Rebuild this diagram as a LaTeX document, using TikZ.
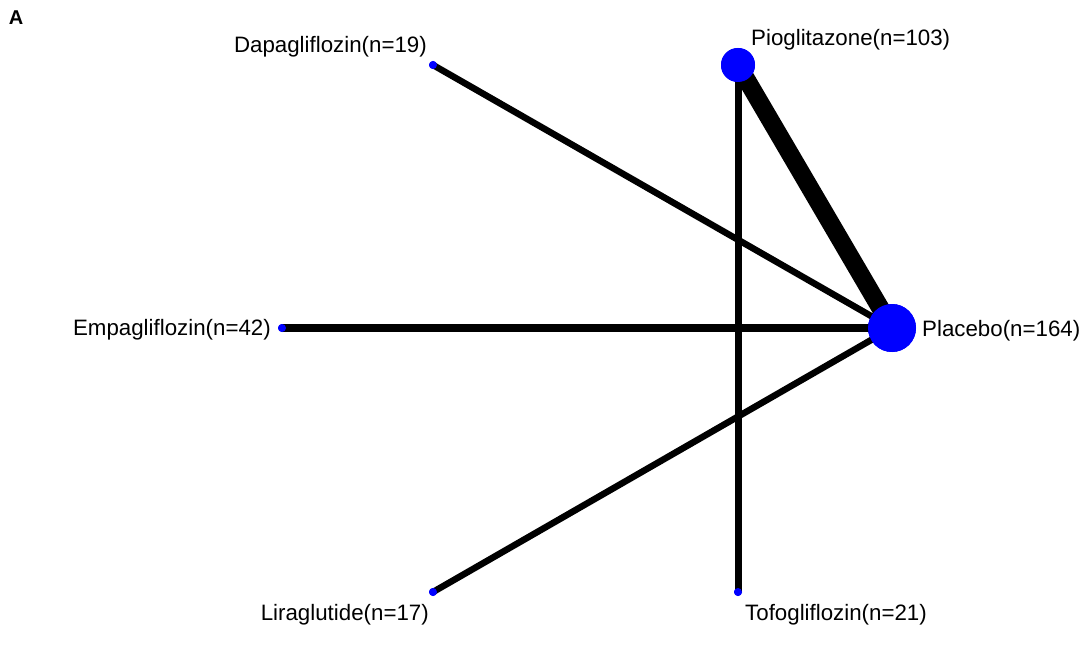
\documentclass[tikz,border=0pt]{standalone}
\usepackage{fontspec}
\setmainfont{Liberation Sans}
\usepackage{tikz}
\usetikzlibrary{positioning}
\definecolor{netblue}{RGB}{0,0,255}
\tikzset{
  trt/.style={circle, fill=netblue, inner sep=0pt, minimum size=#1},
  trt/.default=8pt,
  lab/.style={font=\fontsize{22.3}{25}\selectfont, inner sep=0pt},
  edge/.style={line width=#1, black}
}

\begin{document}
\begin{tikzpicture}[x=1pt, y=-1pt]
  \useasboundingbox (0,0) rectangle (1090,647);

  \node[font=\fontsize{20}{22}\selectfont\bfseries, inner sep=0pt] (panel) at (16,18) {A};

  % treatments
  \node[trt] (dapa) at (433,65) {};
  \node[trt=34pt] (pio) at (738,65) {};
  \node[trt] (empa) at (282,328) {};
  \node[trt=48pt] (plac) at (892,328) {};
  \node[trt] (lira) at (433,592) {};
  \node[trt] (tofo) at (738,592) {};

  % comparisons
  \draw[edge=6.5pt] (dapa.center) -- (plac.center);
  \draw[edge=8pt] (empa.center) -- (plac.center);
  \draw[edge=6.5pt] (lira.center) -- (plac.center);
  \draw[edge=18pt] (pio.center) -- (plac.center);
  \draw[edge=7pt] (pio.center) -- (tofo.center);

  % redraw dots on top
  \node[trt] at (dapa) {};
  \node[trt=34pt] at (pio) {};
  \node[trt] at (empa) {};
  \node[trt=48pt] at (plac) {};
  \node[trt] at (lira) {};
  \node[trt] at (tofo) {};

  % labels
  \node[lab, anchor=east] (dapalab) at (427,47) {Dapagliflozin(n=19)};
  \node[lab, anchor=west] (piolab) at (751,40) {Pioglitazone(n=103)};
  \node[lab, anchor=east] (empalab) at (271,330) {Empagliflozin(n=42)};
  \node[lab, anchor=west] (placlab) at (922,331) {Placebo(n=164)};
  \node[lab, anchor=east] (liralab) at (429,615) {Liraglutide(n=17)};
  \node[lab, anchor=west] (tofolab) at (745,615) {Tofogliflozin(n=21)};
\end{tikzpicture}
\end{document}
